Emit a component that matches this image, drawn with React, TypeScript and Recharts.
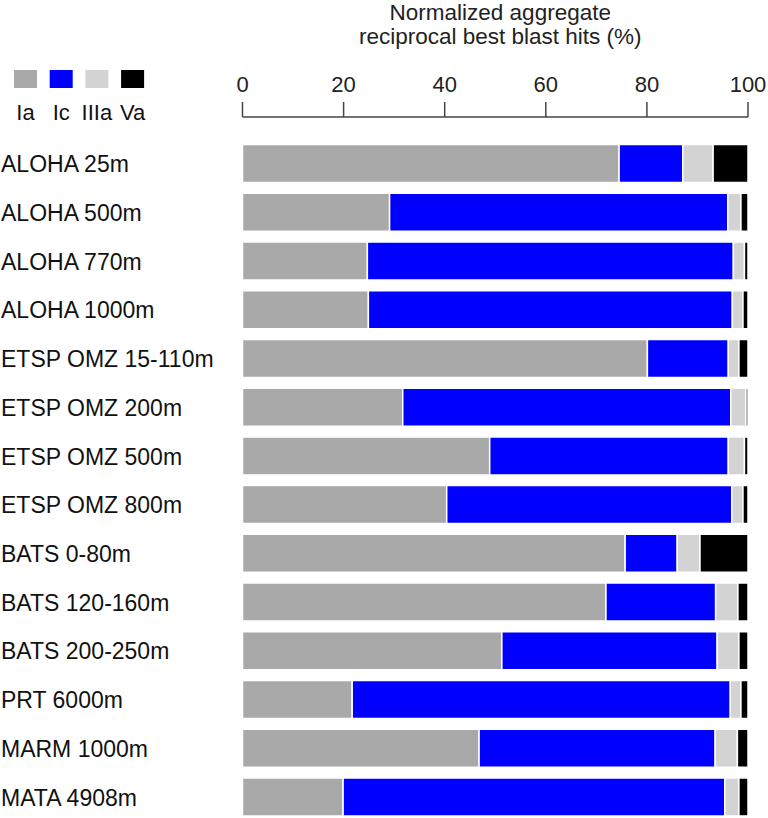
import React from 'react';
import { BarChart, Bar, XAxis, YAxis, Legend } from 'recharts';

const categories = [
  'ALOHA 25m',
  'ALOHA 500m',
  'ALOHA 770m',
  'ALOHA 1000m',
  'ETSP OMZ 15-110m',
  'ETSP OMZ 200m',
  'ETSP OMZ 500m',
  'ETSP OMZ 800m',
  'BATS 0-80m',
  'BATS 120-160m',
  'BATS 200-250m',
  'PRT 6000m',
  'MARM 1000m',
  'MATA 4908m',
];

const iaValues = [74.5, 29.1, 24.7, 24.9, 80.1, 31.7, 48.9, 40.4, 75.7, 71.9, 51.3, 21.7, 46.8, 19.9];
const icValues = [12.6, 66.9, 72.4, 72.0, 16.0, 64.9, 47.2, 56.4, 10.3, 21.7, 42.6, 74.8, 46.7, 75.5];
const iiiaValues = [6.0, 2.6, 2.2, 2.1, 2.1, 3.0, 3.2, 2.2, 4.5, 4.4, 4.3, 2.1, 4.4, 2.8];
const vaValues = [6.9, 1.4, 0.7, 1.0, 1.8, 0.4, 0.7, 1.0, 9.5, 2.0, 1.8, 1.4, 2.1, 1.8];

const seriesNames = ['Ia', 'Ic', 'IIIa', 'Va'];
const xTicks = [0, 20, 40, 60, 80, 100];
const axisTitle = ['Normalized aggregate', 'reciprocal best blast hits (%)'];

const data = categories.map((name, i) => ({
  name,
  Ia: iaValues[i],
  Ic: icValues[i],
  IIIa: iiiaValues[i],
  Va: vaValues[i],
}));

const FONT = '"Liberation Sans", Arial, Helvetica, sans-serif';
const COLORS: Record<string, string> = {
  Ia: '#a9a9a9',
  Ic: '#0000ff',
  IIIa: '#d3d3d3',
  Va: '#000000',
};

function LegendContent(props: any) {
  const payload = (props.payload || []).slice().sort(
    (a: any, b: any) => seriesNames.indexOf(a.value) - seriesNames.indexOf(b.value)
  );
  return (
    <svg width={170} height={130} style={{ display: 'block' }}>
      {payload.map((p: any, i: number) => {
        const x = 14 + i * 35.7;
        return (
          <g key={p.value}>
            <rect x={x} y={70} width={23} height={18} fill={COLORS[p.value] || p.color} />
            <text
              x={x + 11.5}
              y={120}
              textAnchor="middle"
              fontSize={22}
              fontFamily={FONT}
              fill="#111"
            >
              {p.value}
            </text>
          </g>
        );
      })}
    </svg>
  );
}

function YTick(props: any) {
  const { y, payload } = props;
  return (
    <text x={1} y={y} dy="0.36em" textAnchor="start" fontSize={23} fontFamily={FONT} fill="#111">
      {payload.value}
    </text>
  );
}

function TitleLabel(props: any) {
  const vb = props.viewBox || { x: 242.5, width: 505.5 };
  const cx = vb.x + vb.width / 2 + 5;
  return (
    <text textAnchor="middle" fontSize={22.5} fontFamily={FONT} fill="#222">
      <tspan x={cx} y={20}>{axisTitle[0]}</tspan>
      <tspan x={cx} y={44}>{axisTitle[1]}</tspan>
    </text>
  );
}

export default function App() {
  return (
    <div
      style={{
        position: 'fixed',
        top: 0,
        left: 0,
        width: 768,
        height: 818,
        overflow: 'hidden',
        background: '#fff',
      }}
    >
      <BarChart
        width={768}
        height={822}
        data={data}
        layout="vertical"
        margin={{ top: 0, right: 20, bottom: 0, left: 0 }}
      >
        <XAxis
          type="number"
          orientation="top"
          domain={[0, 100]}
          ticks={xTicks}
          height={117}
          tickSize={15}
          tickMargin={10}
          stroke="#444"
          strokeWidth={1.5}
          tick={{ fontSize: 22, fontFamily: FONT, fill: '#222' }}
          label={<TitleLabel />}
        />
        <YAxis
          type="category"
          dataKey="name"
          width={242.5}
          axisLine={false}
          tickLine={false}
          padding={{ top: 22.6, bottom: 0.4 }}
          tick={<YTick />}
          interval={0}
        />
        <Legend
          layout="vertical"
          align="center"
          verticalAlign="middle"
          content={<LegendContent />}
          wrapperStyle={{ position: 'absolute', top: 0, left: 0, width: 170, height: 130 }}
        />
        {seriesNames.map((key) => (
          <Bar
            key={key}
            dataKey={key}
            stackId="a"
            fill={COLORS[key]}
            stroke="#ffffff"
            strokeWidth={1.5}
            barSize={38}
            isAnimationActive={false}
          />
        ))}
      </BarChart>
    </div>
  );
}
